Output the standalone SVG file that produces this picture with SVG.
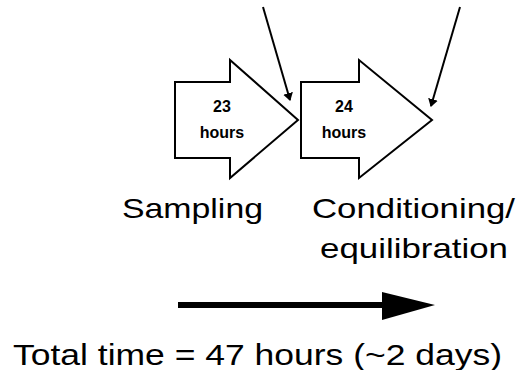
<svg xmlns="http://www.w3.org/2000/svg" width="518" height="370" viewBox="0 0 518 370">
  <style>
    .shape { fill: #fff; stroke: #000; stroke-width: 2; stroke-linejoin: miter; }
    .small { font-family: "Liberation Sans", Arial, sans-serif; font-size: 16px; font-weight: bold; fill: #000; text-anchor: middle; }
    .label { font-family: "Liberation Sans", Arial, sans-serif; font-size: 28px; fill: #000; }
    .conn { stroke: #000; stroke-width: 2; fill: none; }
  </style>
  <defs>
    <marker id="ah" markerWidth="8" markerHeight="10" refX="7" refY="5" orient="auto" markerUnits="userSpaceOnUse" viewBox="0 0 8 10">
      <path d="M0,0 L8,5 L0,10 Z" fill="#000"/>
    </marker>
  </defs>
  <rect width="518" height="370" fill="#fff"/>

  <g id="stage-sampling">
    <path class="shape" d="M175,82 H230 V60 L298,120 L230,178 V158 H175 Z"/>
    <text class="small" x="222" y="112">23</text>
    <text class="small" x="222" y="138">hours</text>
  </g>

  <g id="stage-conditioning">
    <path class="shape" d="M301,82 H359 V60 L432,120 L359,178 V158 H301 Z"/>
    <text class="small" x="344" y="112">24</text>
    <text class="small" x="344" y="138">hours</text>
  </g>

  <g id="label-sampling">
    <text class="label" x="122" y="218" textLength="141" lengthAdjust="spacingAndGlyphs">Sampling</text>
  </g>

  <g id="label-conditioning">
    <text class="label" x="312" y="218" textLength="203" lengthAdjust="spacingAndGlyphs">Conditioning/</text>
    <text class="label" x="320" y="258" textLength="188" lengthAdjust="spacingAndGlyphs">equilibration</text>
  </g>

  <g id="connectors">
    <line class="conn" x1="263" y1="7" x2="290" y2="100" marker-end="url(#ah)"/>
    <line class="conn" x1="460" y1="7" x2="431" y2="106" marker-end="url(#ah)"/>
    <line x1="178" y1="305" x2="386" y2="305" stroke="#000" stroke-width="6"/>
    <path d="M382,292 L435,305 L382,320 Z" fill="#000"/>
  </g>

  <g id="label-total">
    <text class="label" x="13" y="365" font-size="30" textLength="489" lengthAdjust="spacingAndGlyphs" style="font-size:30px">Total time = 47 hours (~2 days)</text>
  </g>
</svg>
